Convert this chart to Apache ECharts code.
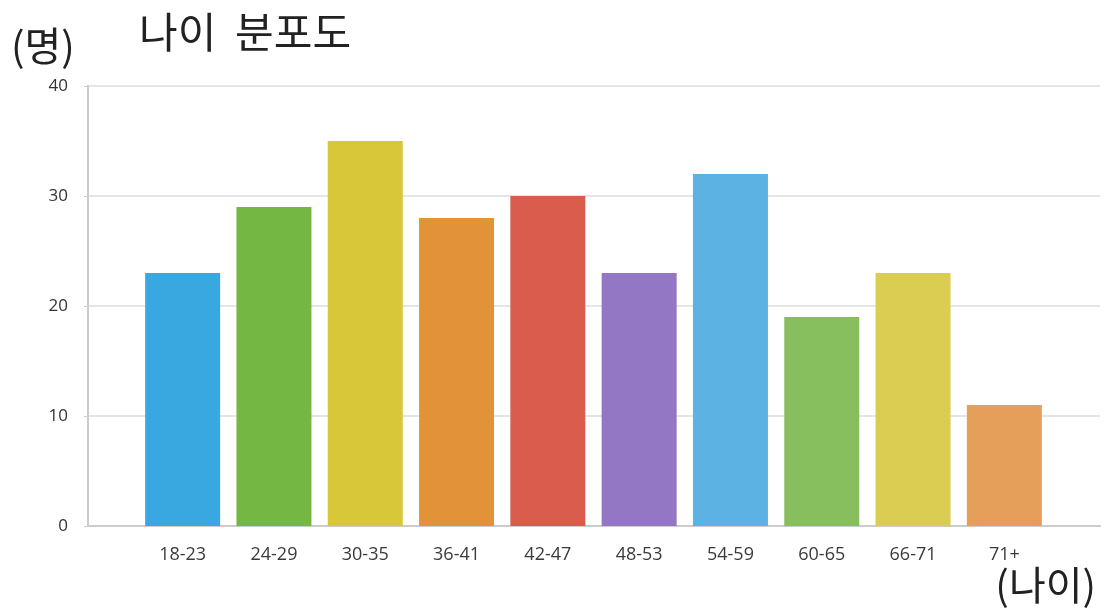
<!DOCTYPE html>
<html>
<head>
<meta charset="utf-8">
<script src="https://cdn.jsdelivr.net/npm/echarts@6/dist/echarts.min.js"></script>
<style>
  html, body { margin: 0; padding: 0; background: #fff; }
  #main { width: 1107px; height: 610px; }
</style>
</head>
<body>
<div id="main"></div>
<script>
// 나이 분포도
var ageGroups = ['18-23', '24-29', '30-35', '36-41', '42-47', '48-53', '54-59', '60-65', '66-71', '71+'];
var counts = [23, 29, 35, 28, 30, 23, 32, 19, 23, 11];
var barColors = ['#3aa8e0', '#74b843', '#d9c73a', '#e39337', '#da5c4d', '#9376c4', '#5bb2e3', '#87bf5f', '#dbcd52', '#e69e5b'];
var yTicks = [0, 10, 20, 30, 40];

var myChart = echarts.init(document.getElementById('main'));

var option = {
    animation: false,
    textStyle: { fontFamily: 'Noto Sans CJK KR, Noto Sans, sans-serif' },
    title: [
        {
            text: '나이  분포도',
            left: 134,
            top: 6,
            textStyle: { fontSize: 42, fontWeight: 'normal', color: '#222' }
        },
        {
            text: '(명)',
            left: 6,
            top: 21,
            textStyle: { fontSize: 40, fontWeight: 'normal', color: '#222' }
        },
        {
            text: '(나이)',
            right: 6,
            top: 560,
            textStyle: { fontSize: 40, fontWeight: 'normal', color: '#222' }
        }
    ],
    grid: [
        // 축과 격자선
        { left: 88, right: 7, top: 86, bottom: 84 },
        // 막대
        { left: 137, right: 57, top: 86, bottom: 84 }
    ],
    xAxis: [
        {
            gridIndex: 0,
            type: 'category',
            data: [''],
            axisLine: { lineStyle: { color: '#ccc', width: 2 } },
            axisTick: { show: false },
            axisLabel: { show: false }
        },
        {
            gridIndex: 1,
            type: 'category',
            data: ageGroups,
            axisLine: { show: false },
            axisTick: { show: false },
            axisLabel: { color: '#3a3a3a', fontSize: 18, margin: 20, fontFamily: 'Open Sans, sans-serif' }
        }
    ],
    yAxis: [
        {
            gridIndex: 0,
            type: 'value',
            min: yTicks[0],
            max: yTicks[yTicks.length - 1],
            interval: 10,
            axisLine: { show: true, lineStyle: { color: '#ccc', width: 2 } },
            axisTick: { show: true, length: 4, lineStyle: { color: '#ccc' } },
            axisLabel: { color: '#333', fontSize: 17, margin: 20, fontFamily: 'Open Sans, sans-serif' },
            splitLine: { lineStyle: { color: '#dcdcdc', width: 1.5 } }
        },
        {
            gridIndex: 1,
            type: 'value',
            min: yTicks[0],
            max: yTicks[yTicks.length - 1],
            interval: 10,
            show: false,
            splitLine: { show: false }
        }
    ],
    series: [
        {
            type: 'bar',
            xAxisIndex: 1,
            yAxisIndex: 1,
            barWidth: 75,
            data: counts.map(function (v, i) {
                return { value: v, itemStyle: { color: barColors[i] } };
            })
        }
    ]
};

myChart.setOption(option);
</script>
</body>
</html>
